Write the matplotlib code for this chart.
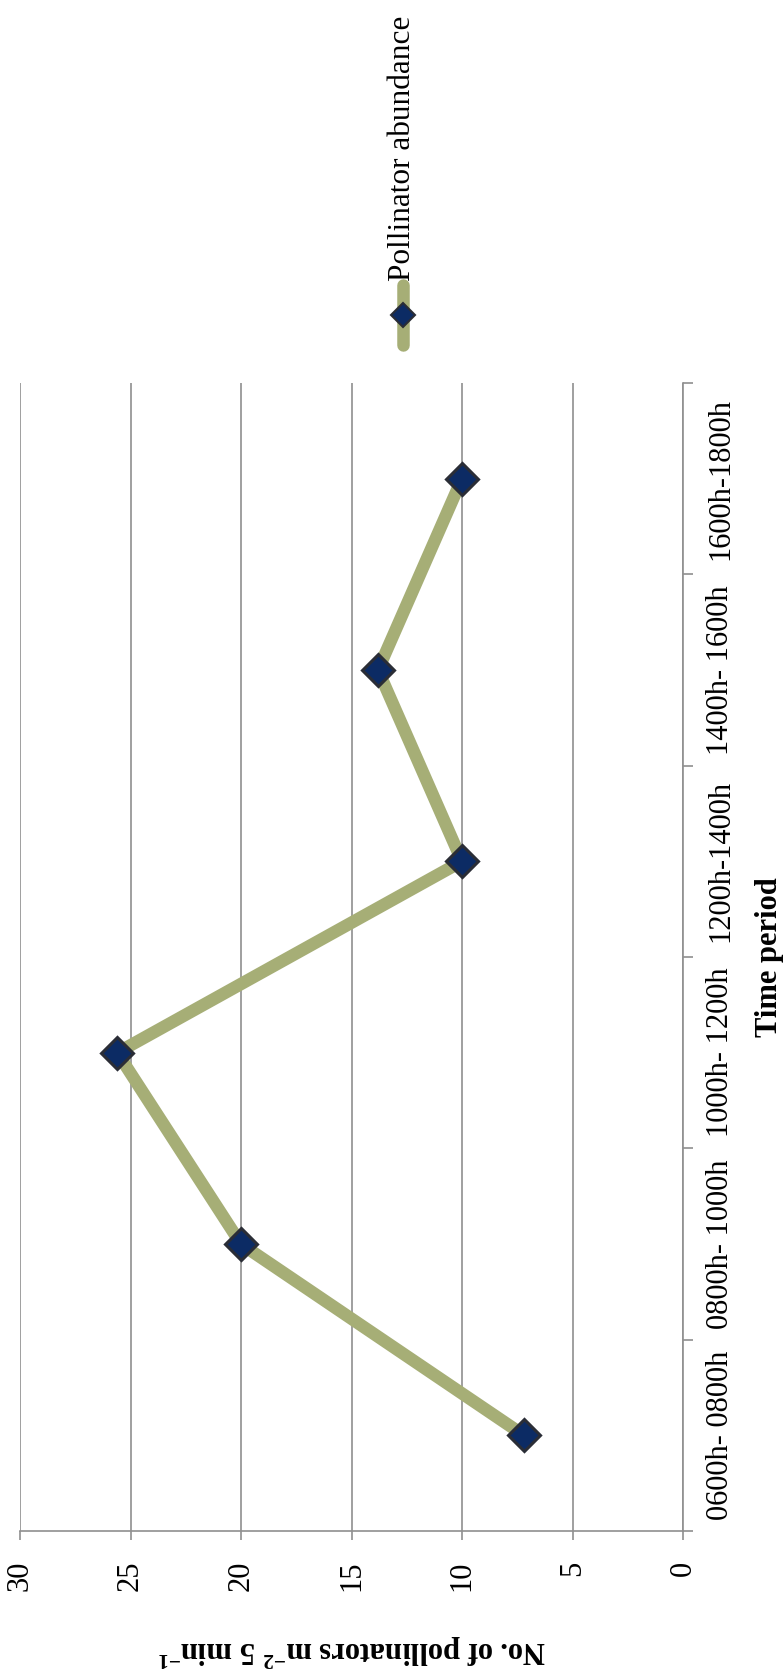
import matplotlib

matplotlib.use("Agg")
import matplotlib.pyplot as plt
import numpy as np
from matplotlib.lines import Line2D

periods = ["0600h- 0800h", "0800h- 1000h", "1000h- 1200h",
           "1200h-1400h", "1400h- 1600h", "1600h-1800h"]
abundance = [7.2, 20.0, 25.6, 10.0, 13.8, 10.0]
value_ticks = [0, 5, 10, 15, 20, 25, 30]
series_name = "Pollinator abundance"

plt.rcParams["font.family"] = ["Liberation Serif", "DejaVu Serif"]
plt.rcParams["mathtext.fontset"] = "custom"
plt.rcParams["mathtext.rm"] = "Liberation Serif"
plt.rcParams["mathtext.bf"] = "Liberation Serif:bold"
plt.rcParams["mathtext.default"] = "regular"

LINE_C = "#a6ae76"
MARK_C = "#0c2b64"
EDGE_C = "#2a2d36"
GRID_C = "#8f8f8f"
W, H = 784, 1676

fig = plt.figure(figsize=(W / 100, H / 100), dpi=100)
ax = fig.add_axes([20 / W, 1 - 1531 / H, 663 / W, 1148 / H])

pos = np.arange(len(periods))
ax.plot(abundance, pos, color=LINE_C, lw=9, solid_joinstyle="round",
        solid_capstyle="round", zorder=3)
ax.plot(abundance, pos, lw=0, marker="D", ms=16, mfc=MARK_C, mec=EDGE_C,
        mew=2.2, zorder=4)

# value axis runs along the bottom, reversed (chart is rotated)
ax.set_xlim(30, 0)
ax.set_xticks(value_ticks)
ax.set_xticklabels([str(v) for v in value_ticks], rotation=90, fontsize=22)
ax.xaxis.grid(True, color=GRID_C, lw=1.2)
ax.tick_params(axis="x", length=6.5, color=GRID_C, width=1.2, pad=15)

# category axis on the right side
ax.set_ylim(-0.5, len(periods) - 0.5)
ax.yaxis.tick_right()
ax.set_yticks(np.arange(-0.5, len(periods)))
ax.set_yticklabels([])
ax.set_yticks(pos, minor=True)
ax.set_yticklabels(periods, minor=True, rotation=90, fontsize=22,
                   va="center", ha="left")
ax.tick_params(axis="y", which="minor", length=0, pad=16.5)
ax.tick_params(axis="y", which="major", length=7, color=GRID_C, width=1.2)

for s in ["top", "left"]:
    ax.spines[s].set_visible(False)
for s in ["right", "bottom"]:
    ax.spines[s].set_color(GRID_C)
    ax.spines[s].set_linewidth(1.2)

fig.text(352 / W, 1 - 1650 / H, r"No. of pollinators m$^{-2}$ 5 min$^{-1}$",
         rotation=180, ha="center", va="center", fontsize=22, fontweight="bold")
fig.text(770 / W, 1 - 957 / H, "Time period", rotation=90, ha="center",
         va="center", fontsize=22, fontweight="bold")

# legend (drawn vertically to match rotated layout)
fig.add_artist(Line2D([403 / W, 403 / W], [1 - 285 / H, 1 - 345 / H],
                      transform=fig.transFigure, color=LINE_C, lw=9,
                      solid_capstyle="round"))
fig.add_artist(Line2D([403 / W], [1 - 315 / H], transform=fig.transFigure,
                      marker="D", ms=12, mfc=MARK_C, mec=EDGE_C, mew=1.5,
                      lw=0))
fig.text(402 / W, 1 - 281 / H, series_name, rotation=90, ha="center",
         va="bottom", fontsize=22.5)

fig.savefig("out.png", dpi=100)
